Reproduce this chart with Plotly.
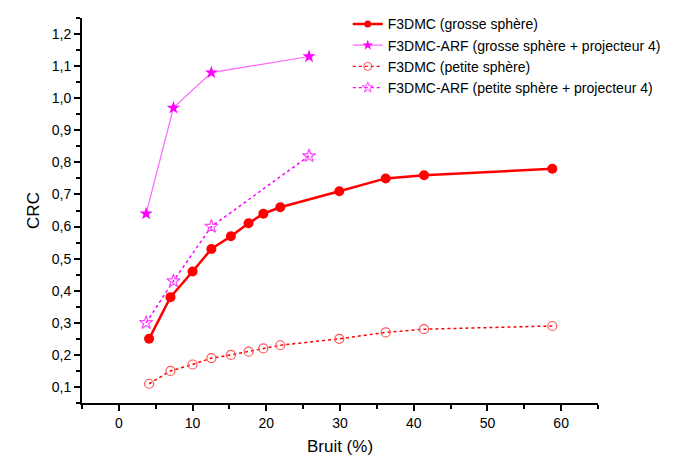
import plotly.graph_objects as go

bruit_f3dmc = [4.1, 7.0, 10.0, 12.55, 15.2, 17.6, 19.6, 21.9, 29.9, 36.2, 41.4, 58.8]
crc_grosse = [0.25, 0.38, 0.46, 0.53, 0.57, 0.61, 0.64, 0.66, 0.71, 0.75, 0.76, 0.78]
crc_petite = [0.11, 0.15, 0.17, 0.19, 0.20, 0.21, 0.22, 0.23, 0.25, 0.27, 0.28, 0.29]

bruit_arf = [3.7, 7.4, 12.55, 25.8]
crc_arf_grosse = [0.64, 0.97, 1.08, 1.13]
crc_arf_petite = [0.30, 0.43, 0.60, 0.82]

names = ["F3DMC (grosse sphère)",
         "F3DMC-ARF (grosse sphère + projecteur 4)",
         "F3DMC (petite sphère)",
         "F3DMC-ARF (petite sphère + projecteur 4)"]

styles = [
    dict(line=dict(color="#FF0000", width=2.5),
         marker=dict(symbol="circle", size=10, color="#FF0000")),
    dict(line=dict(color="#FF66FF", width=1.2),
         marker=dict(symbol="star", size=10, color="#FF00FF")),
    dict(line=dict(color="#FF0000", width=1.5, dash="dot"),
         marker=dict(symbol="circle-open", size=9, color="#FF5555", line=dict(width=1.2))),
    dict(line=dict(color="#FF00FF", width=1.5, dash="dot"),
         marker=dict(symbol="star-open", size=10, color="#FF44FF", line=dict(width=1.2))),
]
legend_styles = [
    dict(line=dict(color="#FF0000", width=2.5),
         marker=dict(symbol="circle", size=7, color="#FF0000")),
    dict(line=dict(color="#FF66FF", width=1.2),
         marker=dict(symbol="star", size=8, color="#FF00FF")),
    dict(line=dict(color="#FF0000", width=1.2, dash="dot"),
         marker=dict(symbol="circle-open", size=8, color="#FF5555", line=dict(width=1))),
    dict(line=dict(color="#FF00FF", width=1.2, dash="dot"),
         marker=dict(symbol="star-open", size=8, color="#FF44FF", line=dict(width=1))),
]
xs = [bruit_f3dmc, bruit_arf, bruit_f3dmc, bruit_arf]
ys = [crc_grosse, crc_arf_grosse, crc_petite, crc_arf_petite]

fig = go.Figure()
for x, y, n, s in zip(xs, ys, names, styles):
    fig.add_trace(go.Scatter(x=x, y=y, mode="lines+markers", name=n,
                             showlegend=False, **s))
for n, s in zip(names, legend_styles):
    fig.add_trace(go.Scatter(x=[None], y=[None], mode="lines+markers", name=n,
                             showlegend=True, **s))

axis_common = dict(
    showline=True, linecolor="black", linewidth=2,
    ticks="outside", ticklen=6, tickwidth=1.5, tickcolor="black",
    showgrid=False, zeroline=False, mirror=False, automargin=False,
    tickfont=dict(family="Liberation Sans, Arial", size=14, color="black"),
    minor=dict(ticks="outside", ticklen=4, tickwidth=1.5, tickcolor="black", showgrid=False),
)

fig.update_layout(
    width=681, height=456,
    margin=dict(l=74, r=91, t=10, b=61, autoexpand=False),
    paper_bgcolor="white", plot_bgcolor="white",
    separators=", ",
    font=dict(family="Liberation Sans, Arial", color="black"),
    xaxis=dict(range=[-5, 65], dtick=10, tick0=0,
               title=dict(text="Bruit (%)", font=dict(size=17), standoff=10),
               **axis_common),
    yaxis=dict(range=[0.05, 1.25], dtick=0.1, tick0=0.1, tickformat=".1f",
               title=dict(text="CRC", font=dict(size=17), standoff=8),
               **axis_common),
    legend=dict(x=0.515, y=1.025, xanchor="left", yanchor="top",
                bgcolor="rgba(0,0,0,0)", font=dict(size=14),
                tracegroupgap=0, itemwidth=30),
    showlegend=True,
)
fig.update_xaxes(minor=dict(dtick=5))
fig.update_yaxes(minor=dict(dtick=0.05))

fig.write_html("out.html")
